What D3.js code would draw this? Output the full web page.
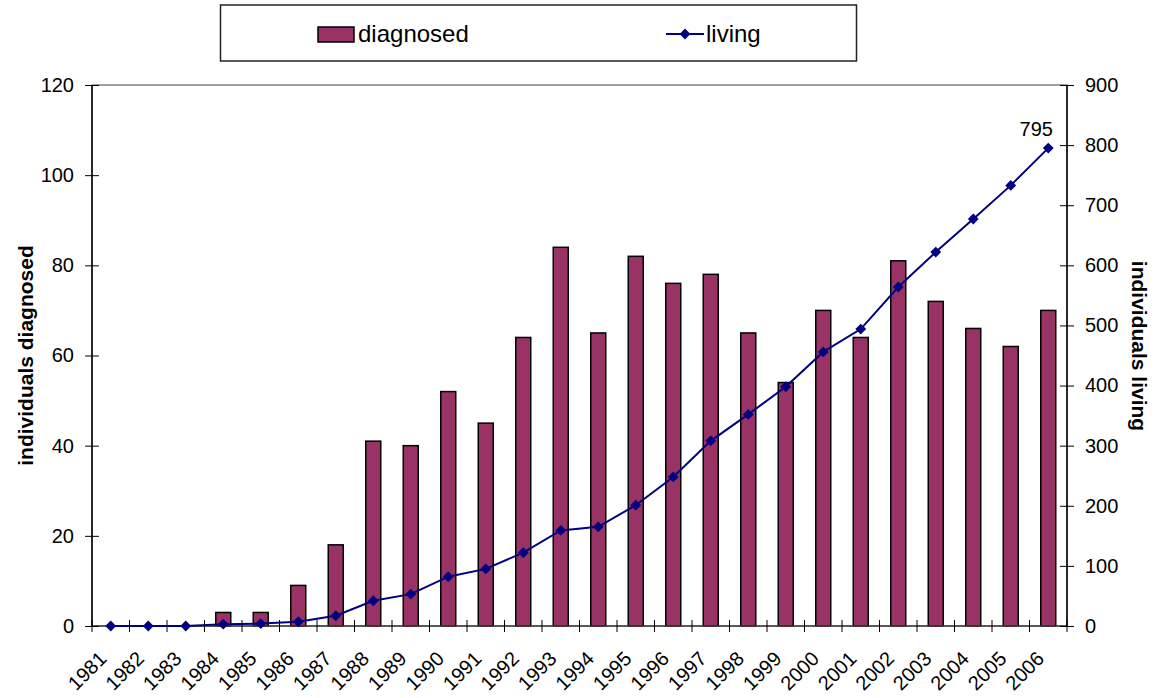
<!DOCTYPE html>
<html><head><meta charset="utf-8">
<script src="https://cdn.jsdelivr.net/npm/d3@7"></script>
<style>body{margin:0;background:#fff}svg{display:block}text{font-family:"Liberation Sans",Arial,sans-serif}</style>
</head><body>
<script>
const years = ["1981","1982","1983","1984","1985","1986","1987","1988","1989","1990","1991","1992","1993","1994","1995","1996","1997","1998","1999","2000","2001","2002","2003","2004","2005","2006"];
const diagnosed = [0,0,0,3,3,9,18,41,40,52,45,64,84,65,82,76,78,65,54,70,64,81,72,66,62,70];
const living = [0,0,0,3,4,7,17,42,53,82,95,122,159,165,201,248,308,352,398,456,494,564,622,677,733,795];
const leftTicks = [0,20,40,60,80,100,120];
const rightTicks = [0,100,200,300,400,500,600,700,800,900];

const W=1156,H=698;
const m={l:92,r:1067,t:85,b:626};
const svg=d3.select("body").append("svg").attr("width",W).attr("height",H);
const xb=d3.scaleBand().domain(years).range([m.l,m.r]);
const yL=d3.scaleLinear().domain([0,120]).range([m.b,m.t]);
const yR=d3.scaleLinear().domain([0,900]).range([m.b,m.t]);
const cx=d=>xb(d)+xb.bandwidth()/2;

// plot border
svg.append("rect").attr("x",m.l).attr("y",m.t).attr("width",m.r-m.l).attr("height",m.b-m.t).attr("fill","none").attr("stroke","#808080").attr("stroke-width",1.5);

// bars
svg.append("g").selectAll("rect").data(years).join("rect")
 .attr("x",d=>cx(d)-7.5).attr("width",15)
 .attr("y",(d,i)=>yL(diagnosed[i])).attr("height",(d,i)=>m.b-yL(diagnosed[i]))
 .attr("fill","#993366").attr("stroke","#000").attr("stroke-width",1.5);

// x axis
const gx=svg.append("g");
gx.append("line").attr("x1",m.l).attr("x2",m.r).attr("y1",m.b).attr("y2",m.b).attr("stroke","#404040").attr("stroke-width",1.5);
const bounds=years.map(d=>xb(d)).concat([m.r]);
gx.selectAll("line.t").data(bounds).join("line").attr("class","t")
 .attr("x1",d=>d).attr("x2",d=>d).attr("y1",m.b-6).attr("y2",m.b+6).attr("stroke","#000").attr("stroke-width",1);
gx.selectAll("text").data(years).join("text")
 .attr("transform",d=>`translate(${cx(d)-3},${m.b+34}) rotate(-45)`)
 .attr("text-anchor","end").attr("font-size",20).text(d=>d);

// left axis
const gl=svg.append("g").attr("transform",`translate(${m.l},0)`)
 .call(d3.axisLeft(yL).tickValues(leftTicks).tickSize(6).tickPadding(12));
gl.selectAll(".tick line").attr("x2",7).attr("x1",-7).attr("stroke","#000");
gl.select(".domain").attr("d",`M0,${m.t}V${m.b}`).attr("stroke","#000").attr("stroke-width",1.5);
gl.selectAll("text").attr("font-size",20).attr("font-family","Liberation Sans, Arial, sans-serif").attr("fill","#000");

// right axis
const gr=svg.append("g").attr("transform",`translate(${m.r},0)`)
 .call(d3.axisRight(yR).tickValues(rightTicks).tickSize(6).tickPadding(12));
gr.selectAll(".tick line").attr("x2",7).attr("x1",-7).attr("stroke","#000");
gr.select(".domain").attr("d",`M0,${m.t}V${m.b}`).attr("stroke","#000").attr("stroke-width",1.5);
gr.selectAll("text").attr("font-size",20).attr("font-family","Liberation Sans, Arial, sans-serif").attr("fill","#000");

// line
svg.append("path").datum(years).attr("fill","none").attr("stroke","#000080").attr("stroke-width",2)
 .attr("d",d3.line().x(cx).y((d,i)=>yR(living[i])));
const diamond=d3.symbol().type(d3.symbolDiamond2).size(75);
svg.append("g").selectAll("path").data(years).join("path")
 .attr("transform",(d,i)=>`translate(${cx(d)},${yR(living[i])})`).attr("d",diamond).attr("fill","#000080");

// label 795
svg.append("text").attr("x",cx("2006")-12).attr("y",yR(living[25])-12).attr("text-anchor","middle").attr("font-size",20).text(living[25]);

// axis titles
svg.append("text").attr("transform",`translate(33,355.5) rotate(-90)`).attr("text-anchor","middle").attr("font-size",21).attr("font-weight","bold").text("individuals diagnosed");
svg.append("text").attr("transform",`translate(1132,346) rotate(90)`).attr("text-anchor","middle").attr("font-size",21).attr("font-weight","bold").text("individuals living");

// legend
const lg=svg.append("g");
lg.append("rect").attr("x",220.5).attr("y",5).attr("width",636).attr("height",56).attr("fill","#fff").attr("stroke","#222").attr("stroke-width",1.5);
lg.append("rect").attr("x",318).attr("y",27).attr("width",36).attr("height",15).attr("fill","#993366").attr("stroke","#000").attr("stroke-width",1.5);
lg.append("text").attr("x",358).attr("y",42).attr("font-size",24).text("diagnosed");
lg.append("line").attr("x1",666).attr("x2",704).attr("y1",34).attr("y2",34).attr("stroke","#000080").attr("stroke-width",2);
lg.append("path").attr("transform","translate(685,34)").attr("d",diamond).attr("fill","#000080");
lg.append("text").attr("x",706).attr("y",42).attr("font-size",24).text("living");
</script>
</body></html>
